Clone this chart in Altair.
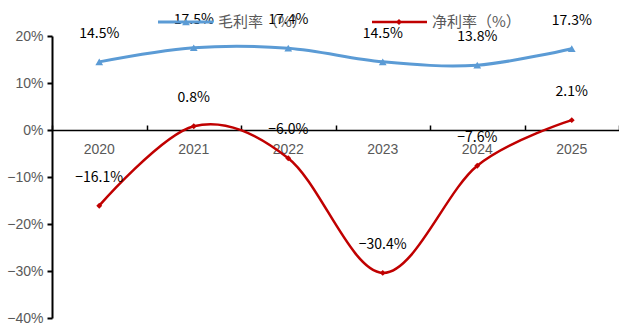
import altair as alt
import pandas as pd

years = ["2020", "2021", "2022", "2023", "2024", "2025"]
gross = [14.5, 17.5, 17.4, 14.5, 13.8, 17.3]
net = [-16.1, 0.8, -6.0, -30.4, -7.6, 2.1]
series_names = ["毛利率（%）", "净利率（%）"]
y_ticks = [-40, -30, -20, -10, 0, 10, 20]

BLUE = "#5B9BD5"
RED = "#C00000"
GREY = "#595959"
CJK = "Noto Sans CJK SC"
LAT = "Liberation Sans"

df_g = pd.DataFrame({"year": years, "value": gross})
df_n = pd.DataFrame({"year": years, "value": net})

W, H = 567, 282

xscale = alt.Scale(type="band", domain=years, paddingInner=0, paddingOuter=0)
x_top = alt.X("year:N", scale=xscale, title=None,
              axis=alt.Axis(orient="top", offset=-94, labels=False,
                            domainColor="black", domainWidth=1.5,
                            tickColor="black", tickWidth=1.5, tickSize=5,
                            tickBand="extent", grid=False))
x_bot = alt.X("year:N", scale=xscale, title=None,
              axis=alt.Axis(orient="bottom", offset=-188, domain=False,
                            ticks=False, labelPadding=12, labelColor=GREY,
                            labelFontSize=14, labelFont=LAT, labelAngle=0,
                            grid=False))
y = alt.Y("value:Q", scale=alt.Scale(domain=[-40, 20], nice=False, zero=False),
          title=None,
          axis=alt.Axis(values=y_ticks, labelExpr="format(datum.value, 'd') + '%'",
                        domainColor="black", domainWidth=2, tickColor="black",
                        tickWidth=2, tickSize=5, labelPadding=4,
                        labelColor=GREY, labelFontSize=14, labelFont=LAT,
                        grid=False))

lbl_expr = "format(datum.value, '.1f') + '%'"

g_line = alt.Chart(df_g).mark_line(color=BLUE, strokeWidth=3, interpolate="cardinal").encode(x=x_top, y=y)
g_pts = alt.Chart(df_g).mark_point(shape="triangle-up", filled=True, size=60, color=BLUE, opacity=1).encode(x=x_top, y=y)
g_txt = alt.Chart(df_g).transform_calculate(lbl=lbl_expr).mark_text(
    dy=-28, fontSize=14, font=CJK, color="black").encode(x=x_top, y=y, text="lbl:N")

n_line = alt.Chart(df_n).mark_line(color=RED, strokeWidth=2.5, interpolate="cardinal").encode(x=x_bot, y=y)
n_pts = alt.Chart(df_n).mark_point(shape="diamond", filled=True, size=35, color=RED, opacity=1).encode(x=x_bot, y=y)
n_txt = alt.Chart(df_n).transform_calculate(lbl=lbl_expr).mark_text(
    dy=-28, fontSize=14, font=CJK, color="black").encode(x=x_bot, y=y, text="lbl:N")

leg_g = pd.DataFrame({"label": [series_names[0]]})
leg_n = pd.DataFrame({"label": [series_names[1]]})
LY = -14
lg_rule = alt.Chart(leg_g).mark_rule(color=BLUE, strokeWidth=3).encode(
    x=alt.value(106), x2=alt.value(161), y=alt.value(LY))
lg_pt = alt.Chart(leg_g).mark_point(shape="triangle-up", filled=True, size=60, color=BLUE, opacity=1).encode(
    x=alt.value(134), y=alt.value(LY))
lg_txt = alt.Chart(leg_g).mark_text(align="left", baseline="middle", fontSize=15, font=CJK, color=GREY).encode(
    x=alt.value(166), y=alt.value(LY), text="label:N")
ln_rule = alt.Chart(leg_n).mark_rule(color=RED, strokeWidth=2.5).encode(
    x=alt.value(320), x2=alt.value(375), y=alt.value(LY))
ln_pt = alt.Chart(leg_n).mark_point(shape="diamond", filled=True, size=35, color=RED, opacity=1).encode(
    x=alt.value(347), y=alt.value(LY))
ln_txt = alt.Chart(leg_n).mark_text(align="left", baseline="middle", fontSize=15, font=CJK, color=GREY).encode(
    x=alt.value(380), y=alt.value(LY), text="label:N")

top = alt.layer(g_line, g_pts, g_txt)
bot = alt.layer(n_line, n_pts, n_txt)

chart = alt.layer(top, bot, lg_rule, lg_pt, lg_txt, ln_rule, ln_pt, ln_txt).resolve_axis(
    x="independent"
).properties(
    width=W, height=H,
    autosize=alt.AutoSizeParams(type="none"),
    padding={"left": 52, "top": 36, "right": 0, "bottom": 5},
).configure_view(stroke=None)

chart.save("out.html", embed_options={"renderer": "svg", "actions": False})
